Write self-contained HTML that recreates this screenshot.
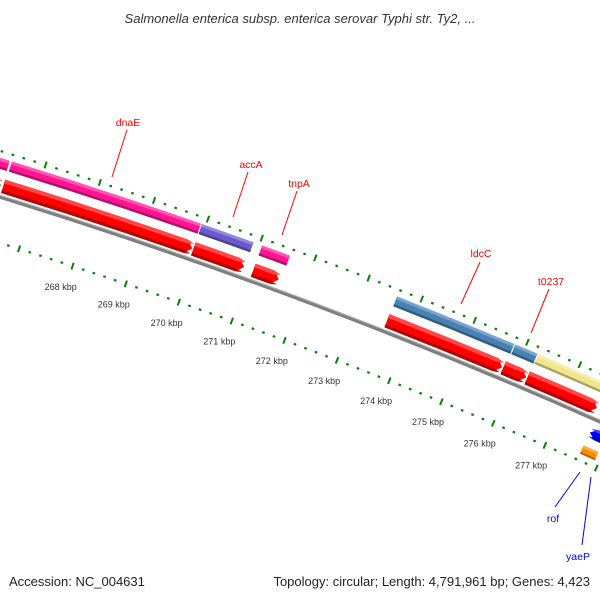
<!DOCTYPE html>
<html><head><meta charset="utf-8"><style>
html,body{margin:0;padding:0;background:#fff;}
svg{display:block;font-family:"Liberation Sans",sans-serif;}
</style></head><body>
<svg id="map" width="600" height="600" viewBox="0 0 600 600" xmlns="http://www.w3.org/2000/svg">
<text x="300" y="23" text-anchor="middle" font-size="13" font-style="italic" fill="#333">Salmonella enterica subsp. enterica serovar Typhi str. Ty2, ...</text>
<g id="ticks"></g>
<g id="backbone"></g>
<g id="features"></g>
<g id="labels" font-size="10.5">
<g><text x="128" y="126" text-anchor="middle" fill="#f00">dnaE</text><line x1="127" y1="130" x2="112" y2="177" stroke="#f00" stroke-width="1"/></g>
<g><text x="251" y="168" text-anchor="middle" fill="#f00">accA</text><line x1="248" y1="172" x2="233" y2="217" stroke="#f00" stroke-width="1"/></g>
<g><text x="299" y="187" text-anchor="middle" fill="#f00">tnpA</text><line x1="297" y1="191" x2="282" y2="235" stroke="#f00" stroke-width="1"/></g>
<g><text x="481" y="257" text-anchor="middle" fill="#f00">ldcC</text><line x1="480" y1="262" x2="461" y2="304" stroke="#f00" stroke-width="1"/></g>
<g><text x="551" y="285" text-anchor="middle" fill="#f00">t0237</text><line x1="549" y1="289" x2="531" y2="333" stroke="#f00" stroke-width="1"/></g>
<g><text x="553" y="522" text-anchor="middle" fill="#00f">rof</text><line x1="580" y1="472" x2="555" y2="507" stroke="#00f" stroke-width="1"/></g>
<g><text x="578" y="560" text-anchor="middle" fill="#00f">yaeP</text><line x1="591" y1="477" x2="582" y2="545" stroke="#00f" stroke-width="1"/></g>
</g>
<text x="9" y="586" font-size="13" fill="#222">Accession: NC_004631</text>
<text x="590" y="586" font-size="13" fill="#222" text-anchor="end">Topology: circular; Length: 4,791,961 bp; Genes: 4,423</text>
</svg>
<script>
const featStart = [265.5, 266.42, 269.93, 271.05, 273.58, 275.82, 276.26, 265.5, 266.40, 269.93, 271.05, 273.57, 275.78, 276.24, 277.64, 277.63];
const featEnd   = [266.38, 269.91, 270.89, 271.57, 275.80, 276.24, 278.8, 266.36, 269.91, 270.88, 271.53, 275.76, 276.22, 277.58, 278.5, 277.92];
const featName  = ['gene-prev', 'dnaE', 'accA', 'tnpA', 'ldcC', 't0237', 'gene-next', 'cds-prev', 'cds-dnaE', 'cds-accA', 'cds-tnpA', 'cds-ldcC', 'cds-t0237', 'cds-next', 'rof', 'yaeP'];
const featTrack = ['gene', 'gene', 'gene', 'gene', 'gene', 'gene', 'gene', 'cds', 'cds', 'cds', 'cds', 'cds', 'cds', 'cds', 'rev1', 'rev2'];
const featColor = ['#ff1493', '#ff1493', '#6a5acd', '#ff1493', '#4682b4', '#4682b4', '#f0e68c', '#ff0000', '#ff0000', '#ff0000', '#ff0000', '#ff0000', '#ff0000', '#ff0000', '#0000ff', '#ff8c00'];
const featStrand = [0, 0, 0, 0, 0, 0, 0, 1, 1, 1, 1, 1, 1, 1, -1, 0];
const tickLabels = [268, 269, 270, 271, 272, 273, 274, 275, 276, 277];

const NS = 'http://www.w3.org/2000/svg';
const cx = -1615, cy = 5423;
const trackR = {gene: 5502, cds: 5481, rev1: 5456, rev2: 5437};
const trackH = {gene: 10.5, cds: 14, rev1: 11, rev2: 9};
function ang(k) { return (-71.88 + (k - 268) * 0.593) * Math.PI / 180; }
function pt(k, r) { const a = ang(k); return [cx + r * Math.cos(a), cy + r * Math.sin(a)]; }
function f(p) { return p[0].toFixed(2) + ' ' + p[1].toFixed(2); }
function mk(tag, attrs, parent) {
  const el = document.createElementNS(NS, tag);
  for (const k in attrs) el.setAttribute(k, attrs[k]);
  parent.appendChild(el); return el;
}
function bandPath(s, e, r0, r1, strand) {
  const head = 0.12;
  let s2 = s, e2 = e;
  if (strand === 1) e2 = Math.max(s, e - head);
  if (strand === -1) s2 = Math.min(e, s + head);
  const rm = (r0 + r1) / 2;
  let d = 'M ' + f(pt(s2, r1)) + ' A ' + r1 + ' ' + r1 + ' 0 0 1 ' + f(pt(e2, r1));
  if (strand === 1) d += ' L ' + f(pt(e, rm));
  d += ' L ' + f(pt(e2, r0)) + ' A ' + r0 + ' ' + r0 + ' 0 0 0 ' + f(pt(s2, r0));
  if (strand === -1) d += ' L ' + f(pt(s, rm));
  return d + ' Z';
}
function shade(hex, amt) {
  const n = parseInt(hex.slice(1), 16);
  let r = n >> 16, g = (n >> 8) & 255, b = n & 255;
  const t = amt > 0 ? 255 : 0, a = Math.abs(amt);
  r = Math.round(r + (t - r) * a); g = Math.round(g + (t - g) * a); b = Math.round(b + (t - b) * a);
  return 'rgb(' + r + ',' + g + ',' + b + ')';
}

// ticks
const tg = document.getElementById('ticks');
for (let i = 0; i <= 80; i++) {
  const k = 264 + i * 0.2;
  const major = (i % 5 === 0);
  [5514, 5426].forEach(function (r) {
    const len = major ? 7 : 2.2;
    const t = mk('line', {}, tg);
    const p0 = pt(k, r - len / 2), p1 = pt(k, r + len / 2);
    t.setAttribute('x1', p0[0]); t.setAttribute('y1', p0[1]);
    t.setAttribute('x2', p1[0]); t.setAttribute('y2', p1[1]);
    t.setAttribute('stroke', '#0a7d0a');
    t.setAttribute('stroke-width', major ? 2 : 2.6);
    
    
  });
}
tickLabels.forEach(function (k) {
  const p = pt(k, 5404);
  const t = mk('text', {}, tg);
  t.setAttribute('x', p[0] - 5); t.setAttribute('y', p[1] + 3);
  t.setAttribute('text-anchor', 'middle'); t.setAttribute('font-size', '9');
  t.setAttribute('fill', '#333');
  t.textContent = k + ' kbp';
  
  
});

// backbone
const bg = document.getElementById('backbone');
const bb = mk('path', {d: 'M ' + f(pt(262, 5470)) + ' A 5470 5470 0 0 1 ' + f(pt(281, 5470)), fill: 'none', stroke: '#7f7f7f', 'stroke-width': 4}, bg);


const bl = mk('path', {d: 'M ' + f(pt(262, 5471.5)) + ' A 5471.5 5471.5 0 0 1 ' + f(pt(281, 5471.5)), fill: 'none', stroke: '#b5b5b5', 'stroke-width': 1}, bg);



// features
const fg = document.getElementById('features');
for (let i = 0; i < featStart.length; i++) {
  const r = trackR[featTrack[i]], h = trackH[featTrack[i]];
  const g = mk('g', {}, fg);
  
  
  mk('path', {d: bandPath(featStart[i], featEnd[i], r - h / 2, r + h / 2, featStrand[i]), fill: featColor[i]}, g);
  mk('path', {d: bandPath(featStart[i], featEnd[i], r + h / 2 - h * 0.28, r + h / 2, featStrand[i] === 1 ? 1 : (featStrand[i] === -1 ? -1 : 0)), fill: shade(featColor[i], 0.28)}, g);
  mk('path', {d: bandPath(featStart[i], featEnd[i], r - h / 2, r - h / 2 + h * 0.22, featStrand[i]), fill: shade(featColor[i], -0.3)}, g);
}
</script>
</body></html>
